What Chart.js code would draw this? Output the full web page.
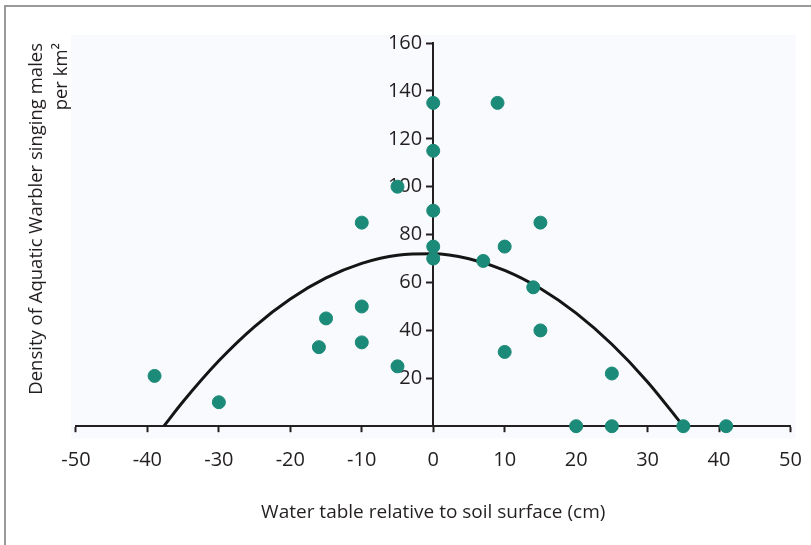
<!DOCTYPE html>
<html>
<head>
<meta charset="utf-8">
<script src="https://cdn.jsdelivr.net/npm/chart.js@4.4.1/dist/chart.umd.min.js"></script>
<style>
  html, body { margin: 0; padding: 0; background: #fff; }
  #wrap { position: relative; width: 811px; height: 545px; }
</style>
</head>
<body>
<div id="wrap"><canvas id="warblerChart"></canvas></div>
<script>
// water table (cm) vs density of singing males
var waterTable = [-39, -30, -16, -15, -10, -10, -10, -5, -5, 0, 0, 0, 0, 0, 9, 7, 10, 10, 14, 15, 15, 25, 20, 25, 35, 41];
var density    = [21, 10, 33, 45, 85, 50, 35, 25, 100, 135, 115, 90, 75, 70, 135, 69, 75, 31, 58, 85, 40, 22, 0, 0, 0, 0];

// fitted curve, points
var curveX = [-37.7, -35, -30, -25, -20, -15, -10, -5, 0, 5, 10, 15, 20, 25, 30, 35];
var curveY = [0, 10.3, 27.3, 41.6, 53.1, 61.9, 68, 71.4, 72, 69.9, 65.1, 57.5, 47.2, 34.2, 18.5, 0];

var xTicks = [-50, -40, -30, -20, -10, 0, 10, 20, 30, 40, 50];
var yTicks = [20, 40, 60, 80, 100, 120, 140, 160];

var ink = "#231f20";
var teal = "#1b8a78";

var scatterPts = waterTable.map(function (x, i) { return {x: x, y: density[i]}; });
var curvePts = curveX.map(function (x, i) { return {x: x, y: curveY[i]}; });

// labels may hang over the edge, don't let them shrink the plot
function noSidePadding(scale) {
  scale.paddingLeft = 0;
  scale.paddingRight = 0;
}

// faint panel behind the plot + grey frame round the figure
var backdrop = {
  id: "backdrop",
  beforeDraw: function (chart) {
    var ctx = chart.ctx, a = chart.chartArea;
    ctx.save();
    ctx.fillStyle = "#f9fafe";
    ctx.fillRect(a.left - 5, a.top - 8, a.right - a.left + 10, a.bottom - a.top + 20);
    ctx.strokeStyle = "#9a9a9a";
    ctx.lineWidth = 2;
    ctx.beginPath();
    ctx.moveTo(5, 545);
    ctx.lineTo(5, 6);
    ctx.lineTo(811, 6);
    ctx.stroke();
    ctx.restore();
  }
};

new Chart("warblerChart", {
  type: "scatter",
  data: {
    datasets: [{
      type: "line",
      data: curvePts,
      borderColor: "#151515",
      borderWidth: 3,
      pointRadius: 0,
      cubicInterpolationMode: "monotone",
      fill: false,
      order: 2
    }, {
      data: scatterPts,
      backgroundColor: teal,
      borderColor: teal,
      pointRadius: 6.5,
      pointHoverRadius: 6.5,
      clip: false,
      order: 1
    }]
  },
  plugins: [backdrop],
  options: {
    responsive: true,
    maintainAspectRatio: false,
    animation: false,
    layout: {padding: {left: 24, right: 20.5, top: 43, bottom: 12}},
    plugins: {
      legend: {display: false},
      tooltip: {enabled: false}
    },
    scales: {
      x: {
        type: "linear",
        position: "bottom",
        min: -50,
        max: 50,
        afterBuildTicks: function (s) { s.ticks = xTicks.map(function (v) { return {value: v}; }); },
        afterFit: noSidePadding,
        grid: {display: true, drawOnChartArea: false, drawTicks: true, tickLength: 6, tickColor: ink, tickWidth: 2},
        border: {color: ink, width: 2},
        ticks: {color: ink, padding: 16, font: {family: "Open Sans", size: 20}},
        title: {
          display: true,
          text: "Water table relative to soil surface (cm)",
          color: ink,
          font: {family: "Open Sans", size: 19, weight: "500"},
          padding: {top: 13, bottom: 9}
        }
      },
      y: {
        type: "linear",
        position: "center",
        min: 0,
        max: 160,
        afterBuildTicks: function (s) { s.ticks = yTicks.map(function (v) { return {value: v}; }); },
        afterFit: noSidePadding,
        grid: {display: true, drawOnChartArea: false, drawTicks: true, tickLength: 6, tickColor: ink, tickWidth: 2},
        border: {color: ink, width: 2},
        ticks: {color: ink, padding: 5, font: {family: "Open Sans", size: 20}}
      },
      yTitle: {
        type: "linear",
        position: "left",
        display: true,
        grid: {display: false, drawTicks: false},
        border: {display: false},
        ticks: {display: false},
        title: {
          display: true,
          text: ["Density of Aquatic Warbler singing males", "per km\u00b2"],
          align: "end",
          color: ink,
          font: {family: "Open Sans", size: 18.5, lineHeight: 1.35},
          padding: {top: 0, bottom: 2}
        }
      }
    }
  }
});
</script>
</body>
</html>
